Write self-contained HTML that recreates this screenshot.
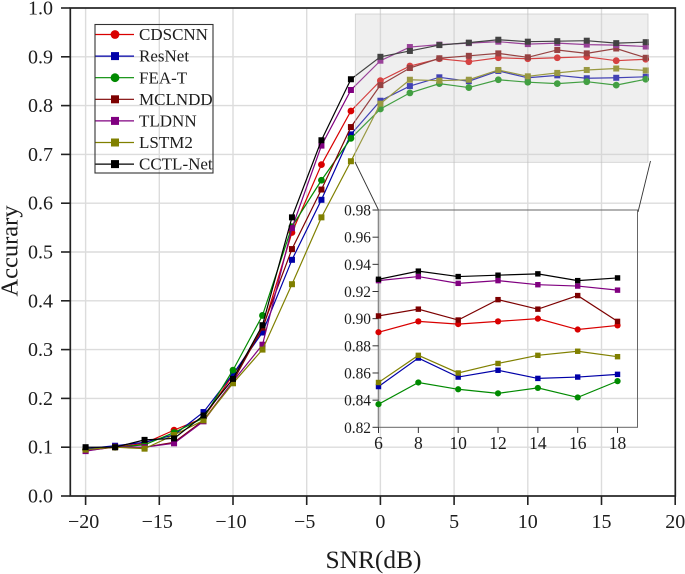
<!DOCTYPE html>
<html lang="en">
<head>
<meta charset="utf-8">
<title>Accuracy vs SNR</title>
<style>
html,body{margin:0;padding:0;background:#fff;width:685px;height:574px;overflow:hidden}
svg{display:block;font-family:"Liberation Serif",serif;fill:#1c1c1c;filter:blur(0.35px)}
</style>
</head>
<body>
<svg id="chart" xmlns="http://www.w3.org/2000/svg" width="685" height="574" viewBox="0 0 685 574"></svg>
<script>
const snrValues = [-20,-18,-16,-14,-12,-10,-8,-6,-4,-2,0,2,4,6,8,10,12,14,16,18];
const cdscnnValues = [0.095,0.100,0.108,0.135,0.160,0.248,0.340,0.540,0.679,0.789,0.851,0.881,0.896,0.890,0.898,0.896,0.898,0.900,0.892,0.895];
const resnetValues = [0.097,0.103,0.110,0.125,0.172,0.250,0.335,0.484,0.607,0.741,0.810,0.840,0.858,0.850,0.871,0.857,0.862,0.856,0.857,0.859];
const feaTValues = [0.095,0.100,0.105,0.130,0.160,0.258,0.370,0.552,0.647,0.733,0.793,0.826,0.845,0.837,0.853,0.848,0.845,0.849,0.842,0.854];
const mclnddValues = [0.093,0.100,0.100,0.110,0.155,0.235,0.345,0.506,0.628,0.756,0.842,0.877,0.897,0.902,0.907,0.899,0.914,0.907,0.917,0.898];
const tldnnValues = [0.092,0.101,0.100,0.108,0.153,0.235,0.310,0.549,0.718,0.832,0.892,0.920,0.925,0.928,0.931,0.926,0.928,0.925,0.924,0.921];
const lstm2Values = [0.095,0.100,0.097,0.125,0.155,0.231,0.300,0.434,0.571,0.686,0.804,0.853,0.851,0.853,0.873,0.860,0.867,0.873,0.876,0.872];
const cctlNetValues = [0.100,0.100,0.115,0.118,0.165,0.240,0.350,0.571,0.729,0.854,0.900,0.912,0.924,0.929,0.935,0.931,0.932,0.933,0.928,0.930];
const seriesNames = ["CDSCNN","ResNet","FEA-T","MCLNDD","TLDNN","LSTM2","CCTL-Net"];
const xTickValues = [-20,-15,-10,-5,0,5,10,15,20];
const yTickValues = [0,0.1,0.2,0.3,0.4,0.5,0.6,0.7,0.8,0.9,1];
const insetXTicks = [6,8,10,12,14,16,18];
const insetYTicks = [0.82,0.84,0.86,0.88,0.90,0.92,0.94,0.96,0.98];

const seriesValues = [cdscnnValues,resnetValues,feaTValues,mclnddValues,tldnnValues,lstm2Values,cctlNetValues];
const seriesColors = ["#d90000","#0000a8","#008a00","#7d0000","#800080","#808000","#000000"];
const seriesShapes = ["circle","square","circle","square","square","square","square"];

const svg = document.getElementById('chart');
const NS = 'http://www.w3.org/2000/svg';
function mk(tag, attrs, parent, text){
  const el = document.createElementNS(NS, tag);
  for (const k in attrs) el.setAttribute(k, attrs[k]);
  if (text !== undefined) el.textContent = text;
  (parent || svg).appendChild(el);
  return el;
}
function slug(s){ return s.toLowerCase().replace(/[^a-z0-9]+/g,'-'); }
const xMain = v => 380.4 + 14.74 * v;
const yMain = v => 496 - 488 * v;
const xIn = v => 378.5 + 19.92 * (v - 6);
const yIn = v => 427.3 - 1358 * (v - 0.82);

/* main grid */
const grid = mk('g', {});


xTickValues.forEach(v => { if (v > -21 && v < 20) mk('line', {x1:xMain(v),x2:xMain(v),y1:8,y2:496,stroke:'#dcdcdc','stroke-width':1.4}, grid); });
yTickValues.forEach(v => { if (v > 0 && v < 1) mk('line', {x1:70,x2:675,y1:yMain(v),y2:yMain(v),stroke:'#dcdcdc','stroke-width':1.4}, grid); });

function drawSeries(parent, xf, yf, indices, size, lw, prefix){
  seriesValues.forEach((vals, s) => {
    const g = mk('g', {}, parent);
    
    
    const pts = indices.map(i => xf(snrValues[i]).toFixed(2) + ',' + yf(vals[i]).toFixed(2)).join(' ');
    mk('polyline', {points:pts,fill:'none',stroke:seriesColors[s],'stroke-width':lw}, g);
    indices.forEach(i => {
      const cx = xf(snrValues[i]), cy = yf(vals[i]);
      if (seriesShapes[s] === 'circle') mk('circle', {cx:cx,cy:cy,r:size/2+0.4,fill:seriesColors[s]}, g);
      else mk('rect', {x:cx-size/2,y:cy-size/2,width:size,height:size,fill:seriesColors[s]}, g);
    });
  });
}

/* main series */
const mainMarks = mk('g', {});


drawSeries(mainMarks, xMain, yMain, snrValues.map((_, i) => i), 6, 1.2, 'main');

/* zoom highlight */
const zoomRect = mk('rect', {x:355.3,y:14,width:292.7,height:148.3,fill:'rgba(205,205,205,0.32)',stroke:'rgba(190,190,190,0.7)','stroke-width':0.8});


const connA = mk('line', {x1:355,y1:162,x2:378.5,y2:210,stroke:'#333','stroke-width':0.9});


const connB = mk('line', {x1:650.5,y1:161,x2:638,y2:212,stroke:'#333','stroke-width':0.9});



/* frame and ticks */
const frame = mk('rect', {x:70.3,y:8,width:605,height:488,fill:'none',stroke:'#222','stroke-width':1.7});


const xAxis = mk('g', {});


xTickValues.forEach(v => {
  mk('line', {x1:xMain(v),x2:xMain(v),y1:496,y2:505,stroke:'#222','stroke-width':1.6}, xAxis);
  mk('text', {x:xMain(v)-(v<0?2:0),y:528,'text-anchor':'middle','font-size':20}, xAxis, (v<0?'\u2212':'')+Math.abs(v));
});
const yAxis = mk('g', {});


yTickValues.forEach(v => {
  mk('line', {x1:61,x2:70,y1:yMain(v),y2:yMain(v),stroke:'#222','stroke-width':1.6}, yAxis);
  mk('text', {x:53,y:yMain(v)+6.5,'text-anchor':'end','font-size':20}, yAxis, v.toFixed(1));
});
const xTitle = mk('text', {x:373.5,y:568,'text-anchor':'middle','font-size':25.4}, svg, 'SNR(dB)');


const yTitle = mk('text', {x:0,y:0,'text-anchor':'middle','font-size':24.5,transform:'translate(17.5,251) rotate(-90)'}, svg, 'Accurary');



/* inset */
const inset = mk('g', {});


mk('rect', {x:378.5,y:210,width:259,height:217.3,fill:'none',stroke:'#666','stroke-width':1}, inset);
mk('line', {x1:378.5,x2:378.5,y1:210,y2:427.3,stroke:'#888','stroke-width':1.6}, inset);
insetXTicks.forEach(v => {
  mk('line', {x1:xIn(v),x2:xIn(v),y1:427.3,y2:433,stroke:'#333','stroke-width':1}, inset);
  mk('text', {x:xIn(v),y:449,'text-anchor':'middle','font-size':17.5}, inset, String(v));
});
insetYTicks.forEach(v => {
  mk('line', {x1:372.5,x2:378.5,y1:yIn(v),y2:yIn(v),stroke:'#333','stroke-width':1}, inset);
  mk('text', {x:371,y:yIn(v)+5.5,'text-anchor':'end','font-size':15.4}, inset, v.toFixed(2));
});
const insetIdx = snrValues.map((v, i) => i).filter(i => snrValues[i] >= 6);
drawSeries(inset, xIn, yIn, insetIdx, 5.4, 1.2, 'inset');

/* legend */
const legend = mk('g', {});


mk('rect', {x:95,y:24.5,width:118,height:148.5,fill:'none',stroke:'#333','stroke-width':1.1}, legend);
seriesNames.forEach((name, s) => {
  const y = 34.5 + 21.6 * s;
  const e = mk('g', {}, legend);
  
  
  mk('line', {x1:95.5,x2:134,y1:y,y2:y,stroke:seriesColors[s],'stroke-width':1.2}, e);
  if (seriesShapes[s] === 'circle') mk('circle', {cx:115,cy:y,r:4.4,fill:seriesColors[s]}, e);
  else mk('rect', {x:111,y:y-4,width:8,height:8,fill:seriesColors[s]}, e);
  mk('text', {x:139,y:y+5.6,'font-size':17}, e, name);
});
</script>
</body>
</html>
